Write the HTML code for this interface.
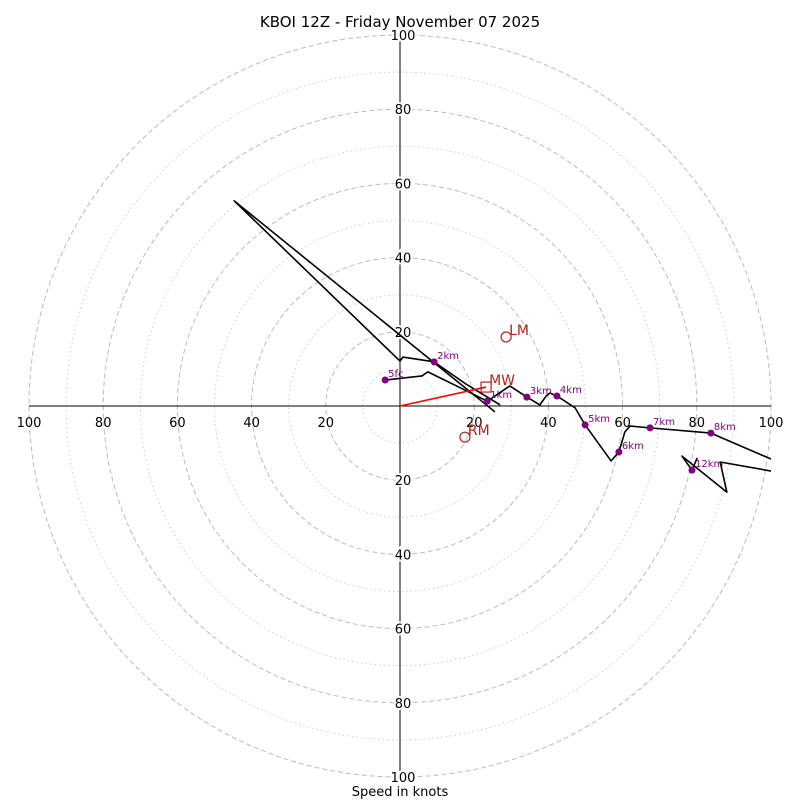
<!DOCTYPE html>
<html><head><meta charset="utf-8"><style>
html,body{margin:0;padding:0;background:#fff;}
svg{display:block;font-family:"DejaVu Sans","Liberation Sans",sans-serif;}
</style></head><body>
<svg id="chart" width="800" height="800" viewBox="0 0 800 800">
<defs><clipPath id="clipbox"><rect x="28" y="35" width="743" height="742"/></clipPath></defs>
<text x="400" y="27" text-anchor="middle" font-size="15">KBOI 12Z - Friday November 07 2025</text>
<g id="rings"></g>
<g id="axes"></g>
<g id="trace" clip-path="url(#clipbox)"></g>
<g id="marks"></g>
<text x="400" y="796" text-anchor="middle" font-size="13">Speed in knots</text>
</svg>
<script>
const ringValues=[10,20,30,40,50,60,70,80,90,100];
const tickValues=[20,40,60,80,100];
const traceU=[-4.0,5.9,7.5,17.5,23.5,29.6,34.2,37.7,39.4,40.4,42.3,47.2,49.9,56.9,59.0,60.6,62.0,67.4,83.8,121.3,121.3,86.3,88.1,76.0,78.7,80.1];
const traceV=[7.0,8.1,9.2,4.3,1.3,5.4,2.4,0.3,2.7,3.5,2.7,-0.5,-5.1,-14.8,-12.4,-7.0,-5.4,-5.9,-7.3,-23.5,-21.3,-15.1,-23.2,-13.5,-17.3,-14.0];
const trace2U=[27.0,17.8,9.2,0.8,0,-44.7,25.6];
const trace2V=[0.3,5.9,11.9,13.2,12.1,55.3,-1.6];
const heightLabels=["5fc","1km","2km","3km","4km","5km","6km","7km","8km","12km"];
const heightU=[-4.0,23.5,9.2,34.2,42.3,49.9,59.0,67.4,83.8,78.7];
const heightV=[7.0,1.3,11.9,2.4,2.7,-5.1,-12.4,-5.9,-7.3,-17.3];
const stormLabels=["LM","RM","MW"];
const stormU=[28.6,17.5,23.2];
const stormV=[18.6,-8.4,5.1];

const NS="http://www.w3.org/2000/svg";
const cx=400, cy=406, k=3.71;
const sx=u=>cx+u*k, sy=v=>cy-v*k;
function mk(parent,tag,attrs){const e=document.createElementNS(NS,tag);for(const a in attrs)e.setAttribute(a,attrs[a]);document.getElementById(parent).appendChild(e);return e;}

ringValues.forEach(r=>{
  const c=mk('rings','circle',{cx:cx,cy:cy,r:r*k,fill:'none',stroke:(r%20===0)?'#bbb':'#ccc','stroke-width':1,'stroke-dasharray':(r%20===0)?'5,3':'1.5,3'});
  
  
});
let l=mk('axes','line',{x1:sx(-100),y1:cy,x2:sx(100),y2:cy,stroke:'#000','stroke-width':1});


l=mk('axes','line',{x1:cx,y1:sy(100),x2:cx,y2:sy(-100),stroke:'#000','stroke-width':1});


tickValues.forEach(t=>{
  [-1,1].forEach(s=>{
    const tx=mk('axes','text',{x:sx(s*t),y:cy+21,'text-anchor':'middle','font-size':13});
    tx.textContent=t;
    
    
    const ty=mk('axes','text',{x:cx+3,y:sy(s*t)+5,'text-anchor':'middle','font-size':13,stroke:'#fff','stroke-width':4,'paint-order':'stroke'});
    ty.textContent=t;
    
    
  });
});
function pts(U,V){return U.map((u,i)=>sx(u)+','+sy(V[i])).join(' ');}
let p=mk('trace','polyline',{points:pts(traceU,traceV),fill:'none',stroke:'#000','stroke-width':1.6,'stroke-linejoin':'round'});


p=mk('trace','polyline',{points:pts(trace2U,trace2V),fill:'none',stroke:'#000','stroke-width':1.6,'stroke-linejoin':'round'});


heightLabels.forEach((h,i)=>{
  const c=mk('marks','circle',{cx:sx(heightU[i]),cy:sy(heightV[i]),r:3.5,fill:'#800080'});
  
  
  const t=mk('marks','text',{x:sx(heightU[i])+3,y:sy(heightV[i])-3,'font-size':10,fill:'#800080'});
  t.textContent=h;
  
  
});
const ar=mk('marks','line',{x1:cx,y1:cy,x2:sx(stormU[2]),y2:sy(stormV[2]),stroke:'red','stroke-width':1.6});


stormLabels.forEach((s,i)=>{
  const x=sx(stormU[i]),y=sy(stormV[i]);
  let m;
  if(s==='MW') m=mk('marks','rect',{x:x-5,y:y-5,width:10,height:10,fill:'none',stroke:'#b22222','stroke-width':1.2});
  else m=mk('marks','circle',{cx:x,cy:y,r:5,fill:'none',stroke:'#b22222','stroke-width':1.2});
  
  
  const t=mk('marks','text',{x:x+3,y:y-2,'font-size':14,fill:'#b22222'});
  t.textContent=s;
  
  
});
</script>
</body></html>
